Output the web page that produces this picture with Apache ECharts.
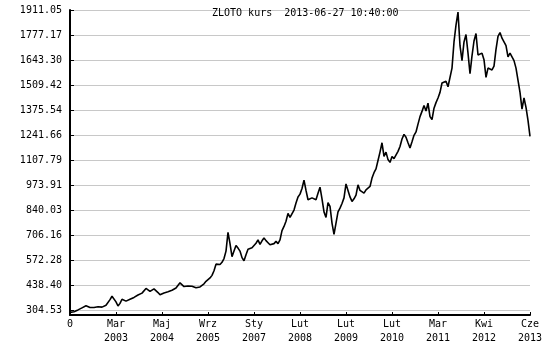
<!DOCTYPE html>
<html><head><meta charset="utf-8">
<script src="https://cdn.jsdelivr.net/npm/echarts@6/dist/echarts.min.js"></script>
<style>html,body{margin:0;padding:0;background:#fff}#c{width:550px;height:350px}</style>
</head><body><div id="c"></div>
<script>
var titleText = 'ZLOTO kurs  2013-06-27 10:40:00';
var xTickLabels = ['0','Mar\n2003','Maj\n2004','Wrz\n2005','Sty\n2007','Lut\n2008','Lut\n2009','Lut\n2010','Mar\n2011','Kwi\n2012','Cze\n2013'];
var yTickLabels = ['304.53','438.40','572.28','706.16','840.03','973.91','1107.79','1241.66','1375.54','1509.42','1643.30','1777.17','1911.05'];
var yMin = 304.53, yMax = 1911.05;
var prices = [
292,288,295,298,305,310,316,320,327,322,
318,314,318,320,322,318,320,326,330,340,
360,378,368,348,326,340,362,368,352,355,
362,368,372,380,385,388,395,405,420,410,
404,410,418,415,398,386,392,396,399,402,
405,410,416,422,432,450,440,430,432,433,
428,432,430,424,422,428,436,445,458,468,
476,490,515,550,552,548,560,580,620,720,
660,590,620,650,636,620,585,568,600,630,
632,638,650,662,680,656,675,690,676,665,
654,646,660,672,660,680,730,752,780,822,
800,810,840,878,910,925,955,1000,945,895,
888,905,910,895,930,962,900,830,800,880,
860,770,710,770,830,850,875,905,980,945,
910,886,900,920,975,945,935,930,948,955,
966,1011,1040,1060,1105,1150,1200,1127,1150,1110,
1095,1127,1115,1125,1154,1180,1220,1245,1230,1200,
1172,1205,1240,1258,1300,1340,1368,1400,1370,1412,
1340,1324,1385,1415,1440,1470,1520,1530,1530,1500,
1500,1600,1740,1830,1900,1720,1640,1740,1780,1680,
1570,1665,1745,1785,1670,1660,1680,1645,1550,1600,
1590,1590,1610,1700,1770,1790,1760,1740,1720,1660,
1680,1670,1640,1600,1610,1470,1380,1440,1390,1320,
1234
];
var yStep = (yMax - yMin) / (yTickLabels.length - 1);
var nPts = prices.length - 1;
var xStep = nPts / (xTickLabels.length - 1);
var data = prices.map(function (v, i) { return [i, v]; });
var g0Bottom = 35, g1Bottom = 40, gTop = 10;
var h1 = 350 - gTop - g1Bottom, h0 = 350 - gTop - g0Bottom;
var dataMin = yMax - (yMax - yMin) * h0 / h1;
var font = 'DejaVu Sans Mono';
var chart = echarts.init(document.getElementById('c'), null, {renderer: 'canvas'});
chart.setOption({
  animation: false,
  backgroundColor: '#fff',
  title: {text: titleText, left: 207, top: 3, textStyle: {fontFamily: font, fontSize: 10, fontWeight: 'normal', color: '#000'}},
  grid: [
    {left: 70, right: 20, top: gTop, bottom: g0Bottom},
    {left: 70, right: 20, top: gTop, bottom: g1Bottom}
  ],
  xAxis: [
    {type: 'value', gridIndex: 0, min: 0, max: nPts, interval: xStep,
     axisLine: {show: true, lineStyle: {color: '#000', width: 2}},
     axisTick: {show: true, inside: true, length: 3, lineStyle: {color: '#000'}},
     splitLine: {show: false},
     axisLabel: {show: true, margin: 2, lineHeight: 14, fontFamily: font, fontSize: 10, color: '#000',
       formatter: function (v) { return xTickLabels[Math.round(v / xStep)]; }}},
    {type: 'value', gridIndex: 1, min: 0, max: nPts, show: false}
  ],
  yAxis: [
    {type: 'value', gridIndex: 0, min: dataMin, max: yMax,
     axisLine: {show: true, lineStyle: {color: '#000', width: 2}},
     axisTick: {show: false}, axisLabel: {show: false}, splitLine: {show: false}},
    {type: 'value', gridIndex: 1, min: yMin, max: yMax, interval: yStep,
     axisLine: {show: false},
     axisTick: {show: true, inside: true, length: 4, lineStyle: {color: '#000'}},
     splitLine: {show: true, showMaxLine: false, lineStyle: {color: '#c8c8c8', width: 1}},
     axisLabel: {margin: 8, fontFamily: font, fontSize: 10, color: '#000',
       formatter: function (v) { return yTickLabels[Math.round((v - yMin) / yStep)]; }}}
  ],
  series: [
    {type: 'line', xAxisIndex: 1, yAxisIndex: 1, data: [], silent: true},
    {type: 'line', xAxisIndex: 0, yAxisIndex: 0, data: data, symbol: 'none', z: 5,
     lineStyle: {color: '#000', width: 1.6}}
  ]
});
</script></body></html>
